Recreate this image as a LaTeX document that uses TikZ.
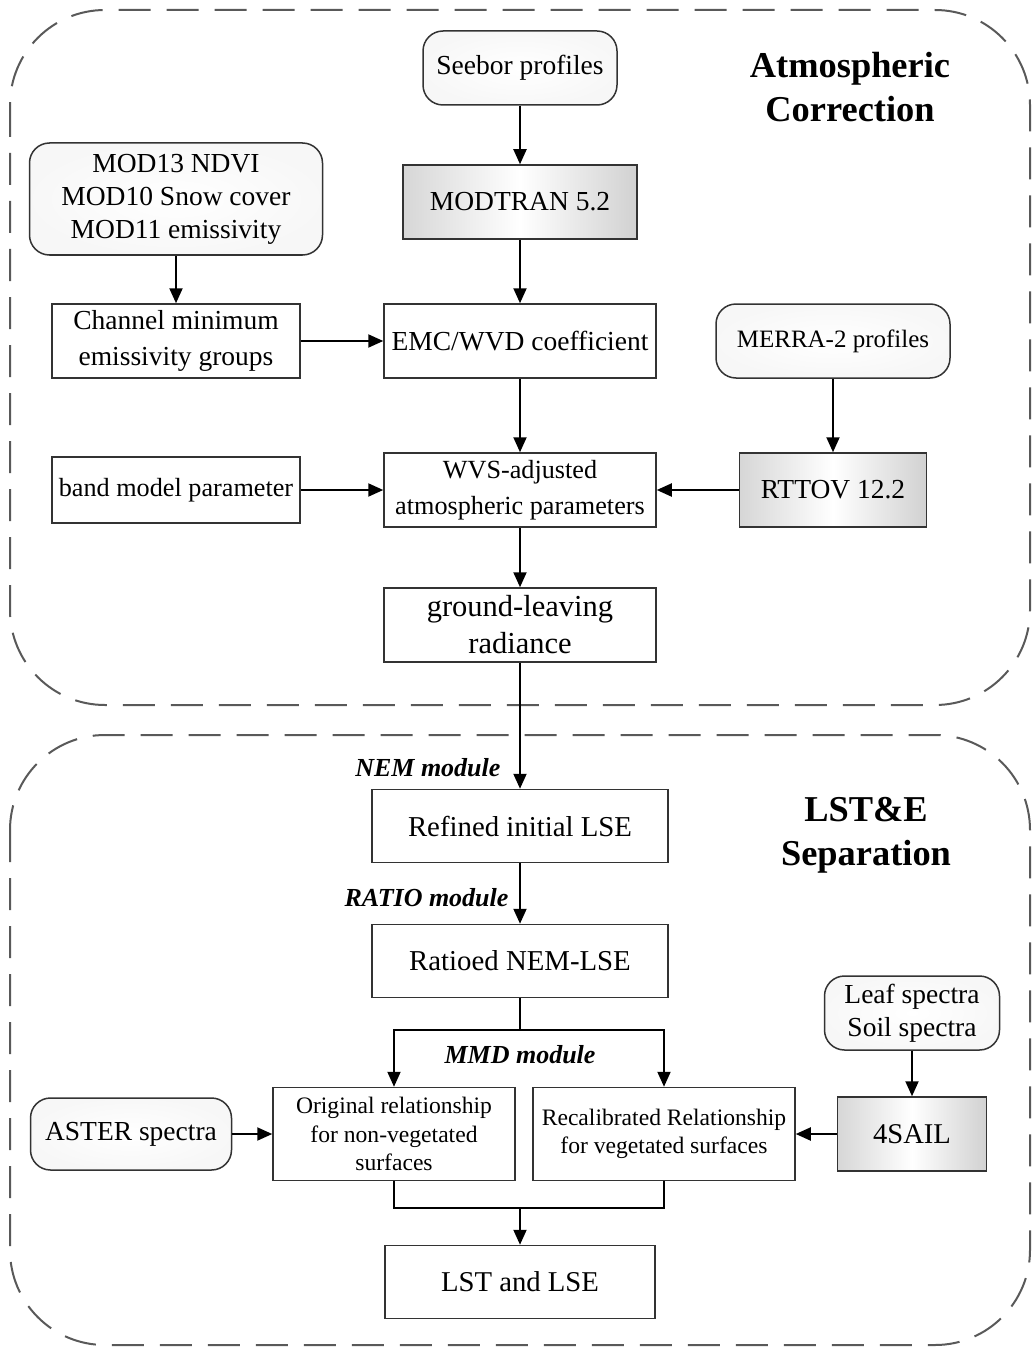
\documentclass[tikz,border=0pt]{standalone}
\usepackage{fontspec}
\setmainfont{Liberation Serif}
\usetikzlibrary{arrows.meta}

\begin{document}
\begin{tikzpicture}[x=1pt,y=-1pt,
    box/.style={draw=black!80, line width=1.5pt, inner sep=0pt, align=center,
      font=\fontsize{27.5}{36}\selectfont},
    roundbox/.style={box, rounded corners=20pt, inner color=white, outer color=black!3},
    shadebox/.style={box, left color=black!16, right color=black!18, middle color=white},
    smallbox/.style={box, font=\fontsize{23.6}{28.5}\selectfont},
    arr/.style={line width=2pt, -{Triangle[length=15pt,width=13pt]}},
    panel/.style={draw=black!65, line width=2pt, dash pattern=on 32pt off 16pt, rounded corners=95pt},
    title/.style={align=center, font=\fontsize{36.4}{44}\selectfont\bfseries},
    module/.style={font=\fontsize{26}{30}\selectfont\bfseries\itshape}]
  \useasboundingbox (0,0) rectangle (1033,1348);

  % dashed panels
  \draw[panel] (10,10) rectangle (1030,705);
  \draw[panel] (10,735) rectangle (1030,1345);

  \node[title] (atmtitle) at (850,87) {Atmospheric\\Correction};
  \node[title] (septitle) at (866,835) {LST\&E\\Separation};

  % atmospheric correction
  \node[roundbox, minimum width=194pt, minimum height=74pt] (seebor) at (520,68) {Seebor profiles};
  \node[shadebox, minimum width=234pt, minimum height=74pt] (modtran) at (520,202) {MODTRAN 5.2};
  \node[roundbox, minimum width=293pt, minimum height=112pt,
    font=\fontsize{27.5}{33}\selectfont] (modis) at (176,199) {MOD13 NDVI\\MOD10 Snow cover\\MOD11 emissivity};
  \node[box, minimum width=248pt, minimum height=74pt] (channel) at (176,341) {Channel minimum\\emissivity groups};
  \node[box, minimum width=272pt, minimum height=74pt] (emc) at (520,341) {EMC/WVD coefficient};
  \node[roundbox, minimum width=234pt, minimum height=74pt,
    font=\fontsize{25}{30}\selectfont] (merra) at (833,341) {MERRA-2 profiles};
  \node[box, minimum width=248pt, minimum height=66pt,
    font=\fontsize{26.2}{36}\selectfont] (band) at (176,490) {band model parameter};
  \node[box, minimum width=272pt, minimum height=74pt,
    font=\fontsize{26.2}{36}\selectfont] (wvs) at (520,490) {WVS-adjusted\\atmospheric parameters};
  \node[shadebox, minimum width=187pt, minimum height=74pt] (rttov) at (833,490) {RTTOV 12.2};
  \node[box, minimum width=272pt, minimum height=74pt,
    font=\fontsize{30.5}{37}\selectfont] (glr) at (520,625) {ground-leaving\\radiance};

  % separation
  \node[box, minimum width=296pt, minimum height=73pt,
    font=\fontsize{28.8}{34}\selectfont] (refined) at (520,826) {Refined initial LSE};
  \node[box, minimum width=296pt, minimum height=73pt,
    font=\fontsize{28.8}{34}\selectfont] (ratioed) at (520,961) {Ratioed NEM-LSE};
  \node[smallbox, minimum width=242pt, minimum height=93pt] (orig) at (394,1134) {Original relationship\\for non-vegetated\\surfaces};
  \node[smallbox, minimum width=262pt, minimum height=93pt] (recal) at (664,1134) {Recalibrated Relationship\\for vegetated surfaces};
  \node[roundbox, minimum width=201pt, minimum height=72pt] (aster) at (131,1134) {ASTER spectra};
  \node[roundbox, minimum width=175pt, minimum height=74pt,
    font=\fontsize{27.5}{33}\selectfont] (leaf) at (912,1013) {Leaf spectra\\Soil spectra};
  \node[shadebox, minimum width=149pt, minimum height=74pt,
    font=\fontsize{28.6}{34}\selectfont] (sail) at (912,1134) {4SAIL};
  \node[box, minimum width=270pt, minimum height=73pt,
    font=\fontsize{28.7}{34}\selectfont] (lst) at (520,1282) {LST and LSE};

  \node[module, anchor=east] (nemlabel) at (504,768) {NEM module};
  \node[module, anchor=east] (ratiolabel) at (512,898) {RATIO module};
  \node[module] (mmdlabel) at (520,1055) {MMD module};

  \coordinate (split) at (520,1030);
  \coordinate (merge) at (520,1208);

  % connectors
  \draw[arr] (seebor) -- (modtran);
  \draw[arr] (modtran) -- (emc);
  \draw[arr] (modis) -- (channel);
  \draw[arr] (channel) -- (emc);
  \draw[arr] (emc) -- (wvs);
  \draw[arr] (band) -- (wvs);
  \draw[arr] (merra) -- (rttov);
  \draw[arr] (rttov) -- (wvs);
  \draw[arr] (wvs) -- (glr);
  \draw[arr] (glr) -- (refined);
  \draw[arr] (refined) -- (ratioed);
  \draw[line width=2pt] (ratioed.south) -- (split);
  \draw[arr] (split) -| (orig.north);
  \draw[arr] (split) -| (recal.north);
  \draw[arr] (aster) -- (orig);
  \draw[arr] (leaf) -- (sail);
  \draw[arr] (sail) -- (recal);
  \draw[line width=2pt] (orig.south) |- (merge) -| (recal.south);
  \draw[arr] (merge) -- (lst);
\end{tikzpicture}
\end{document}
